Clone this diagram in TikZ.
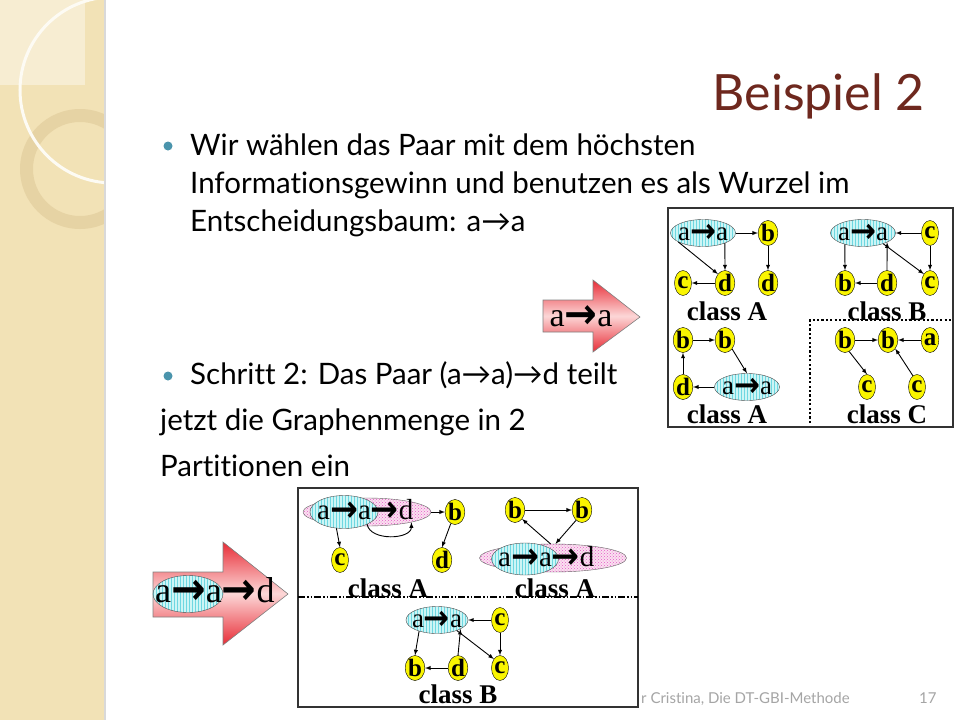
\documentclass[tikz,border=0pt]{standalone}
\usepackage{fontspec}
\usepackage{graphicx}
\setmainfont{Lato}[Ligatures=NoCommon]
\newfontfamily\gfont{Liberation Serif}
\newfontfamily\afont{DejaVu Sans}
\usetikzlibrary{positioning}
\usetikzlibrary{calc}
\usetikzlibrary{shapes.geometric,patterns}
\definecolor{bandbg}{RGB}{242,226,182}
\definecolor{bandlight}{RGB}{247,237,210}
\definecolor{ringc}{RGB}{228,208,160}
\definecolor{titlec}{RGB}{110,40,30}
\definecolor{bulletc}{RGB}{74,148,172}
\definecolor{leafc}{RGB}{250,245,0}
\definecolor{paircyan}{RGB}{205,245,245}
\definecolor{stripec}{RGB}{110,215,225}
\definecolor{extpink}{RGB}{250,225,240}
\definecolor{dotpink}{RGB}{230,90,200}
\definecolor{arrowred}{RGB}{232,45,55}
\definecolor{arrowpale}{RGB}{252,215,215}
\definecolor{footc}{RGB}{165,165,165}
\newcommand\ito{{\afont\bfseries\raisebox{-0.07em}{\scalebox{1.15}[1.25]{→}}}}

\begin{document}
\begin{tikzpicture}[x=1pt,y=-1pt]
\tikzstyle{leaf} =[ellipse,draw=black,fill=leafc,inner sep=0pt,minimum width=17,minimum height=25,font=\gfont\bfseries\fontsize{25}{25}\selectfont]
\tikzstyle{pair} =[ellipse,draw=black!70,inner sep=0pt,preaction={fill=paircyan},pattern=vertical lines,pattern color=stripec]
\tikzstyle{ext} =[ellipse,draw=black!60,inner sep=0pt,preaction={fill=extpink},pattern=crosshatch dots,pattern color=dotpink]
\tikzstyle{ptxt} =[inner sep=0pt,font=\gfont\fontsize{27}{27}\selectfont]
\tikzstyle{ptxtb} =[anchor=base west,inner sep=0pt,font=\gfont\fontsize{29}{29}\selectfont]
\tikzstyle{cls} =[inner sep=0pt,font=\gfont\bfseries\fontsize{27}{27}\selectfont]
\tikzstyle{edge} =[draw,line width=0.9pt,-latex]
\tikzstyle{frame} =[draw=black!80,line width=1.5pt,fill=white]
\tikzstyle{body} =[anchor=base west,inner sep=0pt,font=\fontsize{29.5}{29.5}\selectfont]
\tikzstyle{bullet} =[circle,fill=bulletc,inner sep=0pt,minimum size=9]
\tikzstyle{pick} =[draw=black!50,line width=0.6pt,top color=arrowred,bottom color=arrowred,middle color=arrowpale]
\useasboundingbox (0,0) rectangle (960,720);
\fill[white] (0,0) rectangle (960,720);

\begin{scope}
\clip (0,0) rectangle (105,720);
\fill[bandbg] (0,0) rectangle (105,720);
\fill[bandlight] (0,0) rectangle (85,85);
\fill[ringc,opacity=0.8,even odd rule] (80,169) circle (60) (80,169) circle (47);
\draw[white!85!bandbg,line width=3pt] (113,90) circle (93);
\end{scope}
\draw[black!15,line width=1.5pt] (105,0)--(105,720);

\node[anchor=base east,inner sep=0pt,text=titlec,font=\fontsize{50}{50}\selectfont] (title) at (925,110) {Beispiel 2};

\node[bullet] (p1) at (168,146) {};
\node[body] (t1) at (190,155) {Wir wählen das Paar mit dem höchsten};
\node[body] (t2) at (190,193) {Informationsgewinn und benutzen es als Wurzel im};
\node[body] (t3) at (190,231) {Entscheidungsbaum: a→a};
\node[bullet] (p2) at (168,376) {};
\node[body] (t4) at (190,384) {Schritt 2: Das Paar (a→a)→d teilt};
\node[body] (t5) at (160,430) {jetzt die Graphenmenge in 2};
\node[body] (t6) at (160,476) {Partitionen ein};

\node[anchor=base west,inner sep=0pt,text=footc,font=\fontsize{15}{15}\selectfont] (foot) at (641,703) {r Cristina, Die DT-GBI-Methode};
\node[anchor=base west,inner sep=0pt,text=footc,font=\fontsize{15}{15}\selectfont] (page) at (919,703) {17};

\draw[pick] (543,300)--(593,300)--(593,280)--(640,317)--(593,352)--(593,332)--(543,332)--cycle;
\node[inner sep=0pt,font=\gfont\fontsize{34}{34}\selectfont] (pickaa) at (581,317) {a\ito a};

\draw[pick] (153,572)--(223,572)--(223,542)--(288,594)--(223,645)--(223,617)--(153,617)--cycle;
\node[pair,minimum width=70,minimum height=37] (pickad) at (188,594) {};
\node[anchor=base west,inner sep=0pt,font=\gfont\fontsize{36}{36}\selectfont] (pickadt) at (155,602) {a\ito a\ito d};

\draw[frame] (668,208) rectangle (953,427);
\node[pair,minimum width=65,minimum height=27] (aa1) at (703,233) {};
\node[ptxt] (aa1t) at (aa1) {a\ito a};
\node[leaf] (b1) at (768,233) {b};
\node[leaf] (c1) at (683,283) {c};
\node[leaf] (d1) at (725,283) {d};
\node[leaf] (d2) at (768,283) {d};
\node[cls] (l1) at (727,311) {class A};
\draw[edge] (aa1.east)--(b1.west);
\draw[edge] (aa1.-25)--(d1.north);
\draw[edge] (aa1.200)--(d1.north west);
\draw[edge] (b1.south)--(d2.north);
\draw[edge] (d1.west)--(c1.east);

\node[pair,minimum width=65,minimum height=27] (aa2) at (863,233) {};
\node[ptxt] (aa2t) at (aa2) {a\ito a};
\node[leaf] (c2) at (930,233) {c};
\node[leaf] (b2) at (845,283) {b};
\node[leaf] (d3) at (887,283) {d};
\node[leaf] (c3) at (930,283) {c};
\node[cls] (l2) at (887,311) {class B};
\draw[edge] (c2.west)--(aa2.east);
\draw[edge] (aa2.-148)--(b2.north);
\draw[edge] (d3.west)--(b2.east);
\draw[edge] (d3.north)--(aa2.-21);
\draw[edge] (aa2.-28)--(c3.north west);
\draw[edge] (c2.south)--(c3.north);

\node[leaf] (b3) at (683,340) {b};
\node[leaf] (b4) at (725,340) {b};
\node[leaf] (d4) at (683,387) {d};
\node[pair,minimum width=65,minimum height=27] (aa3) at (747,387) {};
\node[ptxt] (aa3t) at (aa3) {a\ito a};
\node[cls] (l3) at (727,414) {class A};
\draw[edge] (b3.east)--(b4.west);
\draw[edge] (d4.north)--(b3.south);
\draw[edge] (b4.south east)--(aa3.north);
\draw[edge] (aa3.west)--(d4.east);

\node[leaf] (b5) at (845,340) {b};
\node[leaf] (b6) at (888,340) {b};
\node[leaf] (a1) at (930,340) {a};
\node[leaf] (c4) at (867,387) {c};
\node[leaf] (c5) at (917,387) {c};
\node[cls] (l4) at (887,414) {class C};
\draw[edge] (b5.east)--(b6.west);
\draw[edge] (a1.west)--(b6.east);
\draw[edge] (b5.-70)--(c4.north);
\draw[edge] (c5.110)--(b6.-50);
\draw[line width=2.2pt,dash pattern=on 2.2pt off 2.2pt] (810,423)--(810,320)--(952,320);

\draw[frame] (298,488) rectangle (638,707);
\node[ext,minimum width=128,minimum height=28] (ad1) at (367,512) {};
\node[pair,minimum width=68,minimum height=33] (aa4) at (344,512) {};
\node[ptxtb] (aa4t) at (317,519) {a\ito a\ito d};
\node[leaf] (b7) at (455,512) {b};
\node[leaf] (c6) at (340,560) {c};
\node[leaf] (d5) at (442,560) {d};
\node[cls] (l5) at (388,588) {class A};
\draw[edge] (ad1.east)--(b7.west);
\draw[edge] (aa4.-115)--(c6.north);
\draw[edge] (aa4.-28) to[out=-80,in=-90] (ad1.-13);
\draw[edge] (b7.-110)--(d5.north);

\node[leaf] (b8) at (515,510) {b};
\node[leaf] (b9) at (582,510) {b};
\node[ext,minimum width=147,minimum height=28] (ad2) at (553,558) {};
\node[pair,minimum width=67,minimum height=32] (aa5) at (525,559) {};
\node[ptxtb] (aa5t) at (498,566) {a\ito a\ito d};
\node[cls] (l6) at (555,588) {class A};
\draw[edge] (b8.east)--(b9.west);
\draw[edge] (b9.-120)--(ad2.80);
\draw[edge] (ad2.100)--(b8.south east);

\draw[line width=1.5pt,dash pattern=on 7pt off 2pt on 1.5pt off 2pt on 1.5pt off 2pt] (298,597)--(638,597);

\node[pair,minimum width=62,minimum height=27] (aa6) at (437,620) {};
\node[ptxt] (aa6t) at (aa6) {a\ito a};
\node[leaf] (c7) at (500,620) {c};
\node[leaf] (b10) at (415,668) {b};
\node[leaf] (d6) at (458,668) {d};
\node[leaf] (c8) at (500,668) {c};
\node[cls] (l7) at (458,694) {class B};
\draw[edge] (c7.west)--(aa6.east);
\draw[edge] (aa6.-148)--(b10.north);
\draw[edge] (d6.west)--(b10.east);
\draw[edge] (d6.north)--(aa6.-21);
\draw[edge] (aa6.-28)--(c8.north west);
\draw[edge] (c7.south)--(c8.north);
\end{tikzpicture}
\end{document}
